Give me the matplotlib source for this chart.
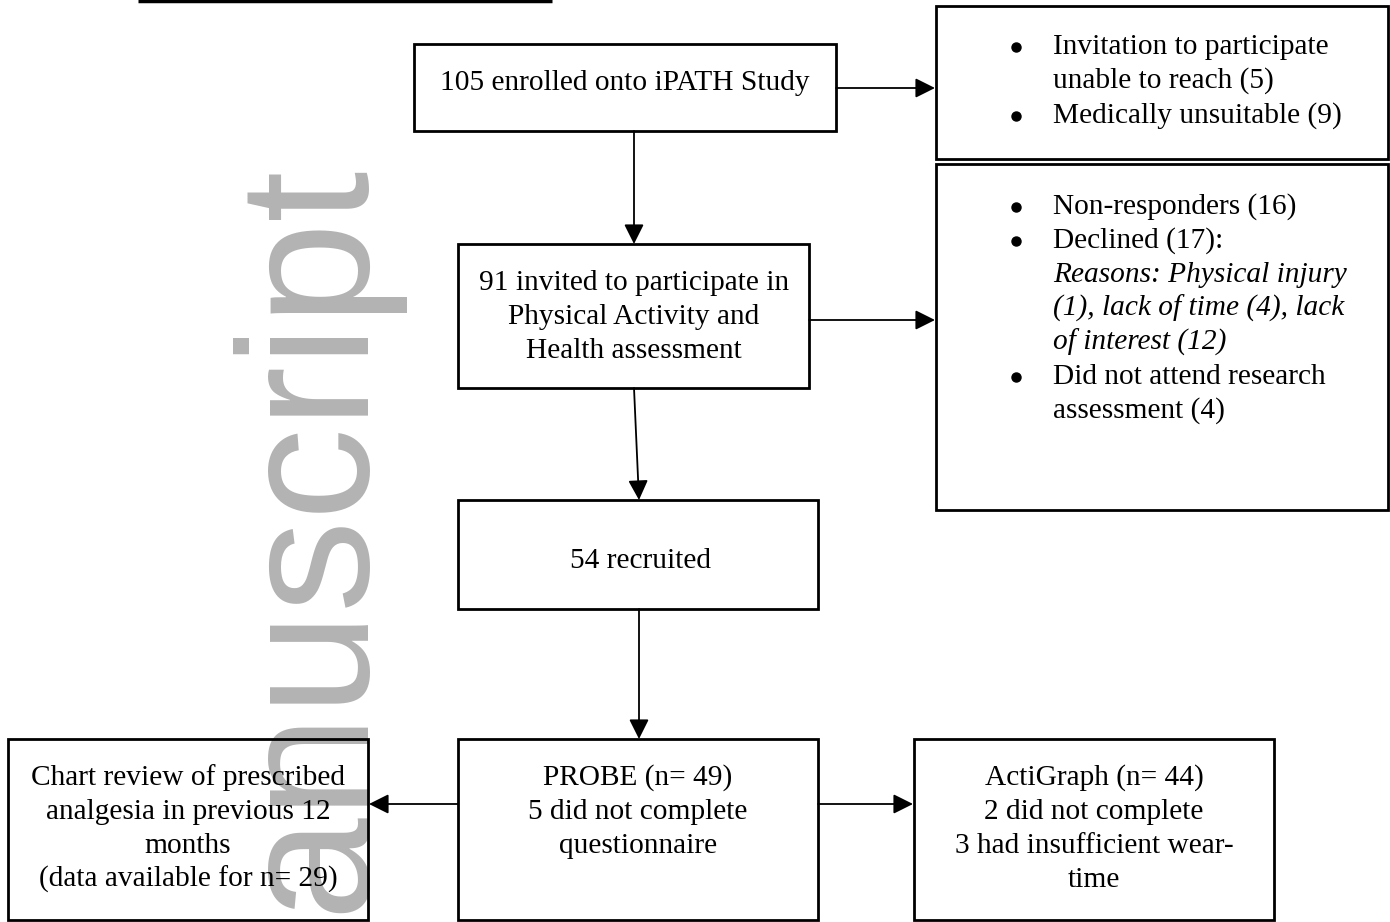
# import libraries
import matplotlib.pyplot as plt
from matplotlib.patches import Rectangle

# counts shown in the flow chart
n_enrolled = 105
n_unreachable = 5
n_unsuitable = 9
n_invited = 91
n_nonresp = 16
n_declined = 17
declined_reasons = [1, 4, 12]  # physical injury, lack of time, lack of interest
n_no_attend = 4
n_recruited = 54
n_probe = 49
n_probe_incomplete = 5
n_acti = 44
n_acti_incomplete = 2
n_acti_weartime = 3
n_chart = 29

# box outlines (x0, y0, x1, y1) in pixels, y going down
boxes = {
    'enrolled': (414, 44, 836, 131),
    'excl1': (936, 6, 1388, 159),
    'excl2': (936, 164, 1388, 510),
    'invited': (458, 244, 809, 388),
    'recruited': (458, 500, 818, 609),
    'probe': (458, 739, 818, 920),
    'acti': (914, 739, 1274, 920),
    'chart': (8, 739, 368, 920),
}

# arrows (start, tip)
arrows = [
    ((836, 88), (935, 88)),
    ((634, 131), (634, 244)),
    ((809, 320), (935, 320)),
    ((634, 388), (639, 500)),
    ((639, 609), (639, 739)),
    ((458, 804), (369, 804)),
    ((818, 804), (913, 804)),
]

fig = plt.figure(figsize=(13.9, 9.22), dpi=100)
ax = fig.add_axes([0, 0, 1, 1])
ax.set_xlim(0, 1390)
ax.set_ylim(922, 0)
ax.axis('off')

# grey watermark
ax.text(354, 155, 'Manuscript', rotation=90, rotation_mode='anchor',
        ha='right', va='baseline', fontsize=133, color='#b3b3b3',
        family='Liberation Sans', zorder=0)

# cut-off underline at the top
ax.plot([138, 552], [1, 1], color='black', lw=2.5, solid_capstyle='butt')

for name, (x0, y0, x1, y1) in boxes.items():
    ax.add_patch(Rectangle((x0, y0), x1 - x0, y1 - y0, fill=False,
                           edgecolor='black', lw=2, zorder=2))

for (xs, ys), (xe, ye) in arrows:
    ax.annotate('', xy=(xe, ye), xytext=(xs, ys),
                arrowprops=dict(arrowstyle='-|>', color='black', lw=1.3,
                                mutation_scale=30, shrinkA=0, shrinkB=0),
                zorder=3)

font = dict(family='Liberation Serif', fontsize=21.2, color='black', zorder=4)
dy = 8  # baseline offset from visual line centre


def centred(x, ys, lines):
    for y, s in zip(ys, lines):
        ax.text(x, y + dy, s, ha='center', va='baseline', **font)


centred(625, [82], [f'{n_enrolled} enrolled onto iPATH Study'])
centred(634, [282, 316, 350], [f'{n_invited} invited to participate in',
                               'Physical Activity and', 'Health assessment'])
centred(640, [560], [f'{n_recruited} recruited'])
centred(638, [777, 811, 845], [f'PROBE (n= {n_probe})',
                               f'{n_probe_incomplete} did not complete',
                               'questionnaire'])
centred(1094, [777, 811, 845, 879], [f'ActiGraph (n= {n_acti})',
                                     f'{n_acti_incomplete} did not complete',
                                     f'{n_acti_weartime} had insufficient wear-',
                                     'time'])
centred(188, [777, 811, 845, 879], ['Chart review of prescribed',
                                    'analgesia in previous 12', 'months',
                                    f'(data available for n= {n_chart})'])

# bullet lists on the right
bx, tx = 1016, 1053
list1 = [(46, True, False, 'Invitation to participate'),
         (80, False, False, f'unable to reach ({n_unreachable})'),
         (115, True, False, f'Medically unsuitable ({n_unsuitable})')]
r = declined_reasons
list2 = [(206, True, False, f'Non-responders ({n_nonresp})'),
         (240, True, False, f'Declined ({n_declined}):'),
         (274, False, True, f'Reasons: Physical injury'),
         (308, False, True, f'({r[0]}), lack of time ({r[1]}), lack'),
         (342, False, True, f'of interest ({r[2]})'),
         (376, True, False, 'Did not attend research'),
         (410, False, False, f'assessment ({n_no_attend})')]
for y, bullet, ital, s in list1 + list2:
    if bullet:
        ax.plot(bx, y + 1, 'o', color='black', ms=6.5, zorder=4)
    ax.text(tx, y + dy, s, ha='left', va='baseline',
            style='italic' if ital else 'normal', **font)

fig.savefig('out.png', dpi=100)
